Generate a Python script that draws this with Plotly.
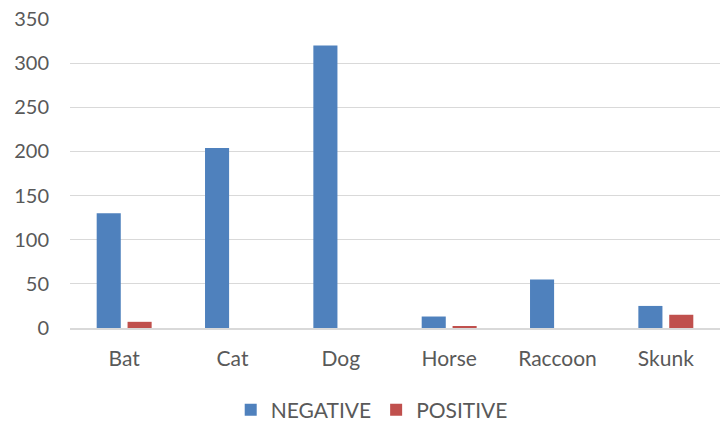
import plotly.graph_objects as go

categories = ["Bat", "Cat", "Dog", "Horse", "Raccoon", "Skunk"]
negative = [130, 204, 320, 13, 55, 25]
positive = [7, 0, 0, 2, 0, 15]
y_ticks = [0, 50, 100, 150, 200, 250, 300, 350]

fig = go.Figure()
fig.add_trace(go.Bar(x=categories, y=negative, name="NEGATIVE",
                     marker=dict(color="#4f81bd", line=dict(width=0))))
fig.add_trace(go.Bar(x=categories, y=positive, name="POSITIVE",
                     marker=dict(color="#c0504d", line=dict(width=0))))

font = dict(family="Lato, Open Sans, sans-serif", size=20, color="#595959")
font_x = dict(family="Lato, Open Sans, sans-serif", size=21, color="#595959")
fig.update_layout(
    width=726, height=424,
    margin=dict(l=70, r=6, t=19, b=96, autoexpand=False),
    paper_bgcolor="white", plot_bgcolor="white",
    barmode="group", bargap=0.43, bargroupgap=0.22,
    font=font,
    showlegend=True,
    legend=dict(orientation="h", xref="container", yref="container",
                x=0.512, xanchor="center", y=0.033, yanchor="middle",
                font=font_x, traceorder="normal"),
    xaxis=dict(showgrid=False, showline=True, linecolor="#d9d9d9", linewidth=1.5,
               ticks="", tickfont=font_x, ticklabelstandoff=11),
    yaxis=dict(range=[0, 350], tickvals=y_ticks, showgrid=True, gridcolor="#d9d9d9",
               gridwidth=1, zeroline=False, showline=False, ticks="",
               ticklabelstandoff=20, tickfont=font),
)
fig.write_html("out.html")
